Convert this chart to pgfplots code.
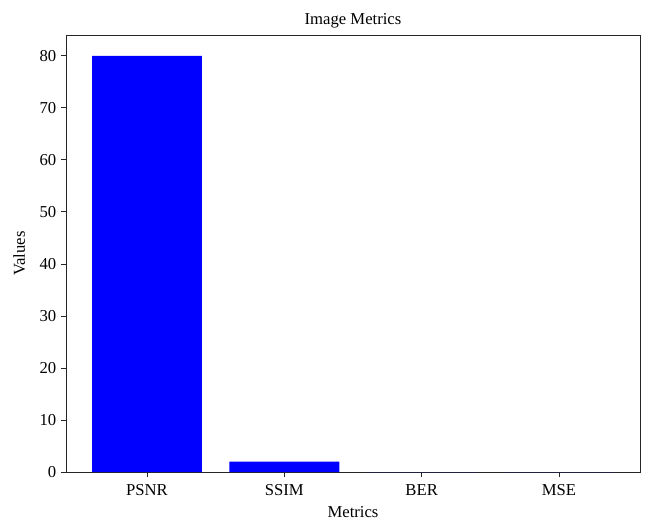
\documentclass[border=0pt]{standalone}
\usepackage{pgfplots}
\pgfplotsset{compat=1.18}
\usepackage{fontspec}
\setmainfont{Liberation Serif}
\begin{document}
\begin{tikzpicture}
\useasboundingbox (-49.5pt,-35.25pt) rectangle (445.5pt,354pt);
\begin{axis}[
  at={(0,0)}, anchor=south west,
  scale only axis,
  width=430.5pt, height=327.75pt,
  xmin=-0.59, xmax=3.59,
  ymin=0, ymax=84,
  xtick={0,1,2,3},
  xticklabels={PSNR,SSIM,BER,MSE},
  ytick={0,10,20,30,40,50,60,70,80},
  tick align=outside,
  tick pos=left,
  major tick length=3.75pt,
  axis line style={line width=0.6pt, black!85},
  every tick/.style={black!85, line width=0.6pt},
  /pgf/number format/assume math mode=true,
  tick label style={font=\fontsize{12.5}{14}\selectfont},
  xticklabel style={yshift=-2pt},
  label style={font=\fontsize{12.5}{14}\selectfont},
  title style={font=\fontsize{12.5}{14}\selectfont, yshift=-4pt},
  title={Image Metrics},
  xlabel={Metrics},
  ylabel={Values},
  xlabel style={yshift=-1pt},
  ylabel style={yshift=4pt},
  ybar, bar width=0.8,
]
\addplot[fill=blue, draw=none] coordinates {(0,80) (1,2) (2,0) (3,0)};
\end{axis}
\end{tikzpicture}
\end{document}
